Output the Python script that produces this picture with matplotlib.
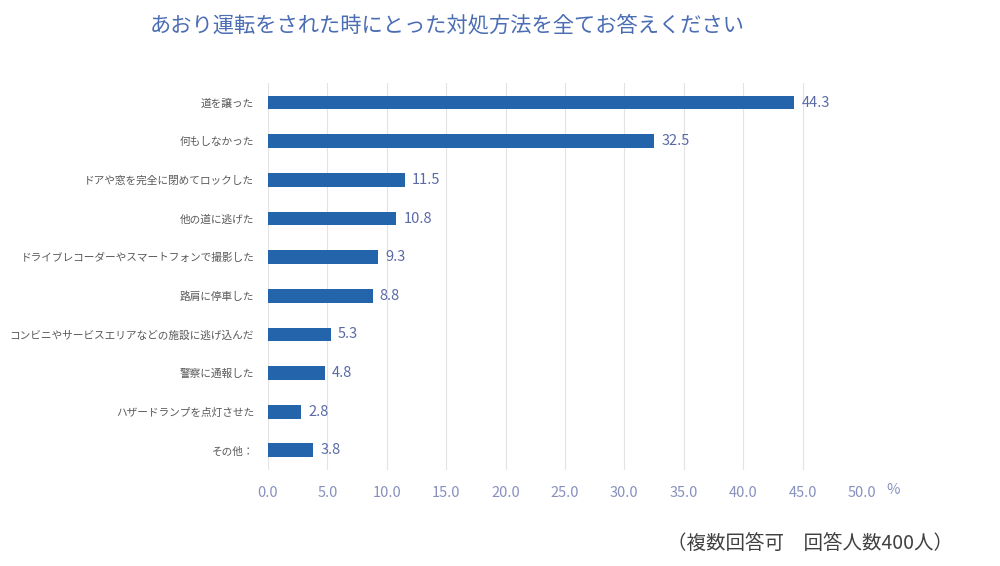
import matplotlib
matplotlib.use("Agg")
import matplotlib.pyplot as plt

plt.rcParams['font.family'] = ['Noto Sans CJK JP', 'DejaVu Sans']

# データ
labels = [
    '道を譲った',
    '何もしなかった',
    'ドアや窓を完全に閉めてロックした',
    '他の道に逃げた',
    'ドライブレコーダーやスマートフォンで撮影した',
    '路肩に停車した',
    'コンビニやサービスエリアなどの施設に逃げ込んだ',
    '警察に通報した',
    'ハザードランプを点灯させた',
    'その他：',
]
values = [44.3, 32.5, 11.5, 10.8, 9.3, 8.8, 5.3, 4.8, 2.8, 3.8]
xticks = [0, 5, 10, 15, 20, 25, 30, 35, 40, 45, 50]

title = 'あおり運転をされた時にとった対処方法を全てお答えください'
note = '（複数回答可　回答人数400人）'

bar_color = '#2364aa'
label_color = '#595959'
value_color = '#5a6aa6'
tick_color = '#8790bd'

fig = plt.figure(figsize=(10, 5.66), dpi=100)
ax = fig.add_axes([0.268, 0.170, 0.594, 0.683])

y = list(range(len(labels)))
ax.barh(y, values, height=0.36, color=bar_color, zorder=3)

# 値ラベル
for yi, v in zip(y, values):
    ax.text(v + 0.6, yi, f'{v:.1f}', va='center', ha='left',
            fontsize=10.5, color=value_color)

ax.set_ylim(len(labels) - 0.5, -0.5)
ax.set_xlim(0, 50)
ax.set_yticks(y)
ax.set_yticklabels(labels, fontsize=7.7, color=label_color)
ax.set_xticks(xticks)
ax.set_xticklabels([f'{t:.1f}' for t in xticks], fontsize=10.5, color=tick_color)
ax.tick_params(axis='both', length=0)
ax.tick_params(axis='x', pad=12)
ax.tick_params(axis='y', pad=10)

ax.grid(axis='x', color='#e3e3e3', linewidth=0.8, zorder=0)
for s in ax.spines.values():
    s.set_visible(False)

fig.text(0.893, 0.134, '%', fontsize=10.5, color=tick_color, ha='center', va='center')
fig.text(0.150, 0.955, title, fontsize=15.3, color='#4a6db3', ha='left', va='center')
fig.text(0.953, 0.040, note, fontsize=14, color='#404040', ha='right', va='center')

fig.savefig('out.png', dpi=100)
